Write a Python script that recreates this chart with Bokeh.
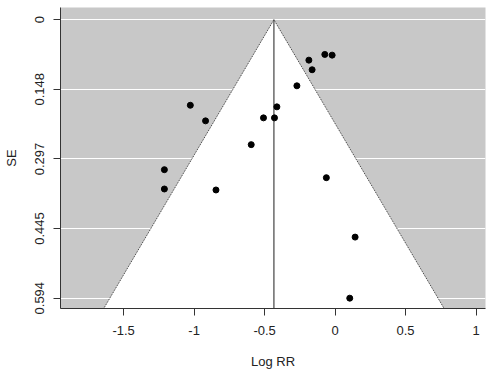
import math
from bokeh.plotting import figure
from bokeh.models import Range1d, FixedTicker, ColumnDataSource
from bokeh.embed import file_html
from bokeh.resources import INLINE

# Study effects (log risk ratio) and standard errors
log_rr = [-1.027, -0.919, -1.211, -1.211, -0.845, -0.073, -0.021, -0.186, -0.163,
          -0.271, -0.413, -0.508, -0.430, -0.595, -0.062, 0.142, 0.104]
se = [0.1825, 0.2158, 0.3199, 0.3611, 0.3632, 0.0741, 0.0756, 0.0863, 0.1068,
      0.1410, 0.1859, 0.2094, 0.2094, 0.2665, 0.3370, 0.4637, 0.5940]
pooled = -0.434
z_crit = 1.96

x_ticks = [-1.5, -1.0, -0.5, 0.0, 0.5, 1.0]
x_tick_labels = ["-1.5", "-1", "-0.5", "0", "0.5", "1"]
y_ticks = [0.0, 0.1485, 0.297, 0.4455, 0.594]
y_tick_labels = ["0", "0.148", "0.297", "0.445", "0.594"]

x_lo, x_hi = -1.948, 1.067
y_top, y_bot = -0.026, 0.616

FONT = "Liberation Sans"

p = figure(width=487, height=374, output_backend="svg", toolbar_location=None,
           x_range=Range1d(x_lo, x_hi), y_range=Range1d(y_bot, y_top),
           min_border_left=57, min_border_right=2, min_border_top=7,
           min_border_bottom=66)

p.background_fill_color = "#c8c8c8"
p.border_fill_color = "white"
p.outline_line_color = None

p.xgrid.grid_line_color = None
p.ygrid.grid_line_color = "white"
p.ygrid.grid_line_width = 1.2
p.ygrid.ticker = FixedTicker(ticks=y_ticks)

# funnel (white region)
tri_x = [pooled - z_crit * y_bot, pooled, pooled + z_crit * y_bot]
tri_y = [y_bot, 0.0, y_bot]
p.patch(tri_x, tri_y, fill_color="white", line_color=None)
# dotted edges
p.line([tri_x[0], tri_x[1]], [tri_y[0], tri_y[1]], line_color="#333333",
       line_dash="1 1", line_width=1)
p.line([tri_x[1], tri_x[2]], [tri_y[1], tri_y[2]], line_color="#333333",
       line_dash="1 1", line_width=1)
# pooled estimate line
p.line([pooled, pooled], [0.0, y_bot], line_color="#444444", line_width=1.2)

src = ColumnDataSource(dict(x=log_rr, y=se))
p.scatter("x", "y", source=src, size=6, fill_color="black", line_color="black")

for ax, ticks, labels in ((p.xaxis[0], x_ticks, x_tick_labels),
                          (p.yaxis[0], y_ticks, y_tick_labels)):
    ax.ticker = FixedTicker(ticks=ticks)
    ax.major_label_overrides = {t: l for t, l in zip(ticks, labels)}
    ax.minor_tick_line_color = None
    ax.major_tick_in = 0
    ax.major_tick_out = 7
    ax.axis_line_color = "#333333"
    ax.major_tick_line_color = "#333333"
    ax.major_label_text_font = FONT
    ax.major_label_text_font_size = "13px"
    ax.major_label_text_color = "#222222"
    ax.axis_label_text_font = FONT
    ax.axis_label_text_font_size = "13px"
    ax.axis_label_text_font_style = "normal"
    ax.axis_label_text_color = "#222222"

p.xaxis.axis_label = "Log RR"
p.yaxis.axis_label = "SE"
p.xaxis.major_label_standoff = 10
p.xaxis.axis_label_standoff = 16
p.yaxis.major_label_standoff = 9
p.yaxis.axis_label_standoff = 14
p.yaxis.major_label_orientation = "vertical"

open("out.html", "w").write(file_html(p, INLINE))
